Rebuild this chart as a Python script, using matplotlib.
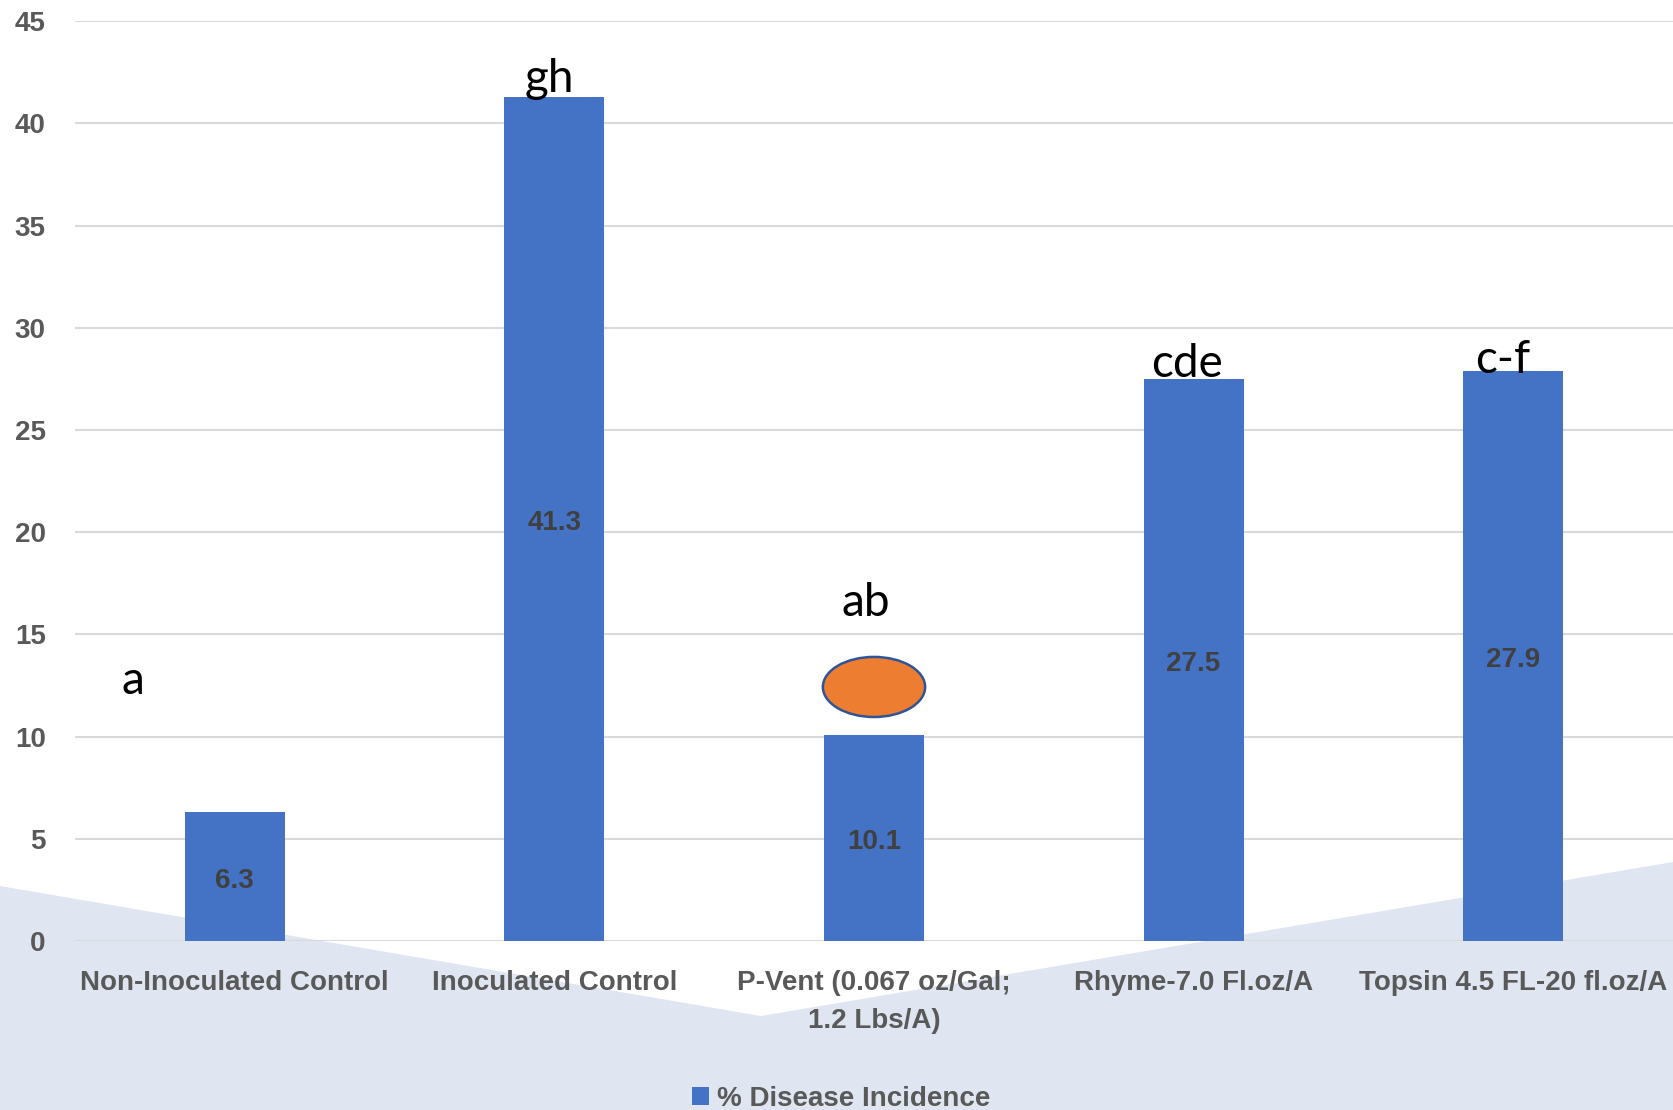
import matplotlib
matplotlib.use('Agg')
import matplotlib.pyplot as plt
from matplotlib.patches import Polygon, Ellipse

treatments = ['Non-Inoculated Control', 'Inoculated Control',
              'P-Vent (0.067 oz/Gal;\n1.2 Lbs/A)', 'Rhyme-7.0 Fl.oz/A',
              'Topsin 4.5 FL-20 fl.oz/A']
incidence = [6.3, 41.3, 10.1, 27.5, 27.9]
letters = ['a', 'gh', 'ab', 'cde', 'c-f']
yticks = [0, 5, 10, 15, 20, 25, 30, 35, 40, 45]

plt.rcParams['font.family'] = ['Lato', 'DejaVu Sans']
label_font = ['Liberation Sans', 'DejaVu Sans']

W, H = 1673, 1110
fig = plt.figure(figsize=(W / 100, H / 100), dpi=100)
fig.patch.set_facecolor('white')

# pale background band behind the lower part of the plot
band = [(0, 886), (761, 1016), (W, 862), (W, H), (0, H)]
band = [(x / W, 1 - y / H) for x, y in band]
fig.add_artist(Polygon(band, closed=True, transform=fig.transFigure,
                       facecolor='#dfe6f1', edgecolor='none', zorder=-5))

ax = fig.add_axes([75 / W, 169 / H, 1 - 75 / W, (941 - 21.3) / H])
ax.set_facecolor('none')

x = list(range(len(treatments)))
bars = ax.bar(x, incidence, width=0.313, color='#4472C4', zorder=2,
              label='% Disease Incidence')

for xi, v in zip(x, incidence):
    ax.annotate(f'{v:.1f}', (xi, v / 2), xytext=(0, -3), textcoords='offset points',
                ha='center', va='center', family=label_font,
                fontsize=20, fontweight='bold', color='#404040', zorder=4)

# mean separation letters
letter_pos = [(-0.32, 12.1), (-0.015, 41.55), (-0.025, 15.9),
              (-0.022, 27.6), (-0.034, 27.8)]
for xi, lab, (dx, yy) in zip(x, letters, letter_pos):
    ax.text(xi + dx, yy, lab, ha='center', va='baseline', fontsize=33,
            color='black', zorder=5)

ax.add_patch(Ellipse((2, 12.43), width=0.32, height=2.94, facecolor='#ED7D31',
                     edgecolor='#2F5597', lw=1.8, zorder=3))

ax.set_xlim(-0.5, 4.5)
ax.set_ylim(0, 45)
ax.set_yticks(yticks)
ax.set_xticks(x)
ax.set_xticklabels(treatments, linespacing=1.6)
ax.yaxis.grid(True, color='#d9d9d9', lw=1.5, zorder=0)
ax.set_axisbelow(True)
for s in ax.spines.values():
    s.set_visible(False)
ax.tick_params(axis='both', length=0, labelcolor='#595959')
ax.tick_params(axis='y', pad=21)
ax.tick_params(axis='x', pad=21)
for t in ax.get_xticklabels() + ax.get_yticklabels():
    t.set_fontweight('bold')
    t.set_family(label_font)
    t.set_fontsize(20)

fig.legend(handles=[bars], loc='lower center', bbox_to_anchor=(0.503, -0.014),
           frameon=False, handlelength=0.6, handleheight=0.6,
           handletextpad=0.3, borderpad=0, labelcolor='#595959',
           prop={'weight': 'bold', 'size': 20, 'family': label_font})

fig.savefig('out.png', dpi=100)
